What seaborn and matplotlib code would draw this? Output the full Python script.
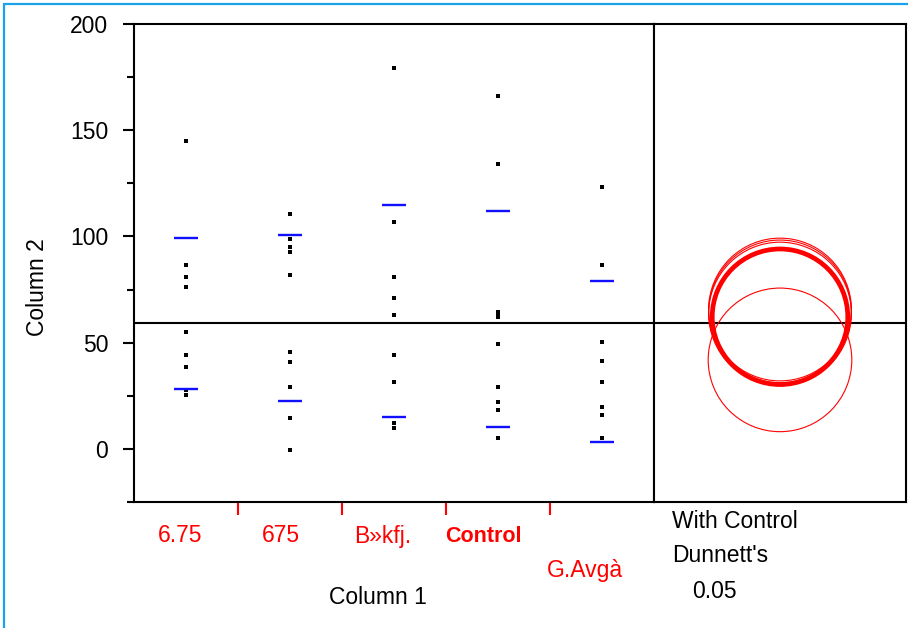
import numpy as np
import pandas as pd
import matplotlib
matplotlib.use("Agg")
import matplotlib.pyplot as plt
import matplotlib.transforms as mtransforms
from matplotlib.patches import Circle
from matplotlib.lines import Line2D
import seaborn as sns

# ---- data -------------------------------------------------------------
groups = ["6.75", "675", "B»kfj.", "Control", "G.Avgà"]
vals_675a = [144.9, 86.7, 81.1, 76.4, 54.8, 44.0, 38.4, 27.5, 25.2]
vals_675b = [110.6, 98.9, 95.2, 92.8, 82.0, 45.4, 40.7, 29.0, 14.4, -0.6]
vals_bkfj = [179.2, 106.9, 81.1, 71.2, 63.2, 44.0, 31.3, 12.0, 9.7]
vals_ctrl = [166.0, 134.1, 64.3, 62.9, 62.0, 49.2, 29.0, 21.9, 18.2, 5.0]
vals_gavg = [123.3, 86.7, 50.1, 41.6, 31.3, 19.6, 15.8, 5.0]
upper_lines = [99.4, 100.5, 114.7, 112.2, 79.2]
lower_lines = [28.2, 22.4, 15.2, 10.5, 3.3]
grand_mean = 59.2
# Dunnett comparison circles (centre, radius) per group
circle_centers = [64.7, 63.7, 65.6, 62.2, 41.9]
circle_radii = [33.6, 33.6, 33.6, 31.9, 33.8]
control_name = "Control"
yticks_major = [0, 50, 100, 150, 200]
yticks_minor = [-25, 25, 75, 125, 175]

df = pd.DataFrame({
    "Column 1": sum([[g] * len(v) for g, v in zip(groups, [vals_675a, vals_675b, vals_bkfj, vals_ctrl, vals_gavg])], []),
    "Column 2": vals_675a + vals_675b + vals_bkfj + vals_ctrl + vals_gavg,
})

# ---- style -------------------------------------------------------------
sns.set_theme(style="white")
plt.rcParams["font.family"] = ["Liberation Sans", "DejaVu Sans"]
FS = 16.5

W, H = 908, 628
fig = plt.figure(figsize=(W / 100, H / 100), dpi=100)
fig.patch.set_facecolor("white")

def fx(px):
    return px / W

def fy(py):
    return 1 - py / H

ax = fig.add_axes([fx(134), fy(502), fx(654) - fx(134), fy(24) - fy(502)])
ax2 = fig.add_axes([fx(654), fy(502), fx(906) - fx(654), fy(24) - fy(502)])

# points
sns.stripplot(data=df, x="Column 1", y="Column 2", order=groups, jitter=False,
              marker="s", color="black", size=2.4, linewidth=0, ax=ax, zorder=3)

xpos = np.arange(len(groups))
ax.hlines(upper_lines, xpos - 0.12, xpos + 0.12, color="#1010ff", lw=1.7, zorder=4)
ax.hlines(lower_lines, xpos - 0.12, xpos + 0.12, color="#1010ff", lw=1.7, zorder=4)
ax.axhline(grand_mean, color="black", lw=1.5, zorder=2)

ax.set_xlim(-0.5, len(groups) - 0.5)
ax.set_ylim(-25, 200)
ax.set_xlabel("")
ax.set_ylabel("")

# x ticks: red marks at group boundaries
ax.set_xticks(xpos[:-1] + 0.5)
ax.set_xticklabels([])
ax.tick_params(axis="x", which="major", colors="red", length=9.5, width=1.5,
               direction="out", bottom=True)

# y ticks
ax.set_yticks(yticks_major)
ax.set_yticks(yticks_minor, minor=True)
ax.set_yticklabels([str(t) for t in yticks_major], fontsize=FS, color="black")
ax.tick_params(axis="y", which="major", length=8, width=1.5, direction="out",
               left=True, pad=10.5, colors="black")
ax.tick_params(axis="y", which="minor", length=5, width=1.5, direction="out",
               left=True, colors="black")

for a in (ax, ax2):
    for s in a.spines.values():
        s.set_color("black")
        s.set_linewidth(1.5)
        s.set_visible(True)

# group labels under the axis
blend = mtransforms.blended_transform_factory(ax.transData, fig.transFigure)
for i, g in enumerate(groups):
    ypix = 571 if i == len(groups) - 1 else 536
    shift = mtransforms.ScaledTranslation((-6 - 2.8 * i) / 100, 0, fig.dpi_scale_trans)
    ax.text(i, fy(ypix), g, transform=blend + shift, ha="center", va="center",
            fontsize=FS if g != control_name else 15.5, color="red",
            fontweight="bold" if g == control_name else "normal", clip_on=False)

fig.text(fx(378), fy(597), "Column 1", ha="center", va="center", fontsize=FS, color="black")
fig.text(fx(37), fy(287), "Column 2", ha="center", va="center", rotation=90,
         fontsize=FS, color="black")

# ---- comparison circles panel -----------------------------------------
ax2.set_ylim(-25, 200)
px_per_unit = (502 - 24) / 225.0
xrange_units = (906 - 654) / px_per_unit
ax2.set_xlim(0, xrange_units)
ax2.set_xticks([])
ax2.set_yticks([])
ax2.axhline(grand_mean, color="black", lw=1.5, zorder=2)
cx = xrange_units / 2
for g, c, r in zip(groups, circle_centers, circle_radii):
    bold = g == control_name
    ax2.add_patch(Circle((cx, c), r, fill=False, ec="red",
                         lw=3.4 if bold else 0.8, zorder=3 if bold else 2))

fig.text(fx(672), fy(521), "With Control", ha="left", va="center", fontsize=FS, color="black")
fig.text(fx(672), fy(556), "Dunnett's", ha="left", va="center", fontsize=FS, color="black")
fig.text(fx(692), fy(592), "0.05", ha="left", va="center", fontsize=FS, color="black")

# blue frame along the left and top edges
frame_col = "#1aa3e6"
fig.add_artist(Line2D([fx(4), fx(4)], [0, fy(4)], transform=fig.transFigure,
                      color=frame_col, lw=1.6))
fig.add_artist(Line2D([fx(4), 1], [fy(4), fy(4)], transform=fig.transFigure,
                      color=frame_col, lw=1.6))

fig.savefig("out.png", dpi=100)
